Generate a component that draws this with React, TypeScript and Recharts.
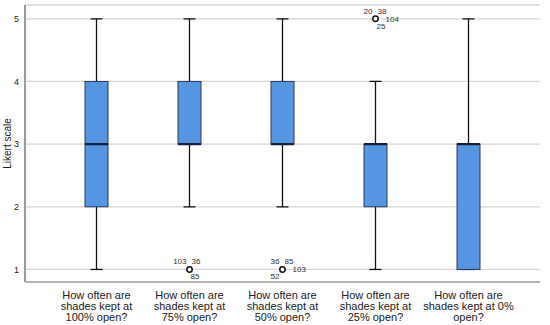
import React from 'react';
import {
  ComposedChart,
  Bar,
  Scatter,
  XAxis,
  YAxis,
  CartesianGrid,
} from 'recharts';

const categories = [
  'How often are shades kept at 100% open?',
  'How often are shades kept at 75% open?',
  'How often are shades kept at 50% open?',
  'How often are shades kept at 25% open?',
  'How often are shades kept at 0% open?',
];
const mins = [1, 2, 2, 1, 1];
const q1s = [2, 3, 3, 2, 1];
const medians = [3, 3, 3, 3, 3];
const q3s = [4, 4, 4, 3, 3];
const maxs = [5, 5, 5, 4, 5];
const outliers: (number | null)[] = [null, 1, 1, 5, null];
// case numbers beside each outlier: [text, position]
const outlierLabels: [string, string][][] = [
  [],
  [['103', 'tl'], ['36', 'tr'], ['85', 'br']],
  [['36', 'tl'], ['85', 'tr'], ['52', 'bl'], ['103', 'r']],
  [['20', 'tl'], ['38', 'tr'], ['25', 'br'], ['104', 'r']],
  [],
];
const yTicks = [1, 2, 3, 4, 5];

const data = categories.map((name, i) => ({
  name,
  min: mins[i],
  q1: q1s[i],
  median: medians[i],
  q3: q3s[i],
  max: maxs[i],
  outlier: outliers[i],
  labels: outlierLabels[i],
}));

const FONT = '"Liberation Sans", Arial, sans-serif';
const BOX_FILL = '#5596e3';
const BOX_STROKE = '#2c3a55';

// whole box + whiskers drawn from the ranged bar [min, max]
const BoxShape = (props: any) => {
  const { x, y, width, height, payload } = props;
  const { min, q1, median, q3, max } = payload;
  const unit = height / (max - min);
  const py = (v: number) => y + (max - v) * unit;
  const cx = x + width / 2;
  const cap = 6;
  return (
    <g>
      <line x1={cx} x2={cx} y1={py(max)} y2={py(q3)} stroke="#111" strokeWidth={1.3} />
      <line x1={cx} x2={cx} y1={py(q1)} y2={py(min)} stroke="#111" strokeWidth={1.3} />
      <line x1={cx - cap} x2={cx + cap} y1={py(max)} y2={py(max)} stroke="#111" strokeWidth={1.3} />
      <line x1={cx - cap} x2={cx + cap} y1={py(min)} y2={py(min)} stroke="#111" strokeWidth={1.3} />
      <rect
        x={x}
        y={py(q3)}
        width={width}
        height={py(q1) - py(q3)}
        fill={BOX_FILL}
        stroke={BOX_STROKE}
        strokeWidth={1}
      />
      <line x1={x} x2={x + width} y1={py(median)} y2={py(median)} stroke="#15203a" strokeWidth={2.2} />
    </g>
  );
};

const labelOffset: Record<string, [number, number, string]> = {
  tl: [-3, -5, 'end'],
  tr: [2, -5, 'start'],
  bl: [-3, 10, 'end'],
  br: [1, 10, 'start'],
  r: [10, 3, 'start'],
};

const OutlierShape = (props: any) => {
  const { cx, cy, payload } = props;
  if (payload.outlier == null || cx == null || cy == null) return null;
  return (
    <g>
      <circle cx={cx} cy={cy} r={2.7} fill="#fff" stroke="#111" strokeWidth={1.5} />
      {payload.labels.map(([t, pos]: [string, string]) => {
        const [dx, dy, anchor] = labelOffset[pos];
        return (
          <text
            key={t + pos}
            x={cx + dx}
            y={cy + dy}
            textAnchor={anchor as any}
            fontSize={8}
            fontFamily={FONT}
            fill="#333"
          >
            {t}
          </text>
        );
      })}
    </g>
  );
};

const wrap = (s: string, maxChars: number) => {
  const words = s.split(' ');
  const lines: string[] = [];
  let cur = '';
  words.forEach((w) => {
    const next = cur ? cur + ' ' + w : w;
    if (next.length > maxChars && cur) {
      lines.push(cur);
      cur = w;
    } else {
      cur = next;
    }
  });
  if (cur) lines.push(cur);
  return lines;
};

const XTick = (props: any) => {
  const { x, y, payload } = props;
  const lines = wrap(payload.value, 17);
  return (
    <text x={x} y={y + 15} textAnchor="middle" fontSize={11} fontFamily={FONT} fill="#222">
      {lines.map((l, i) => (
        <tspan key={i} x={x} dy={i === 0 ? 0 : 10.8}>
          {l}
        </tspan>
      ))}
    </text>
  );
};

export default function App() {
  return (
    <div style={{ position: 'absolute', left: 0, top: 0, width: 550, height: 325, background: '#fff' }}>
      <ComposedChart
        width={550}
        height={325}
        data={data}
        margin={{ top: 5, right: 10, bottom: 0, left: 0 }}
      >
        <CartesianGrid horizontal vertical={false} stroke="#d6d6d6" strokeWidth={1.3} />
        <XAxis
          dataKey="name"
          height={43}
          padding={{ left: 25, right: 25 }}
          tickLine={false}
          tickSize={0}
          tick={<XTick />}
          interval={0}
          axisLine={{ stroke: '#8a8a8a', strokeWidth: 1.2 }}
        />
        <YAxis
          width={25}
          domain={[0.8, 5.22]}
          ticks={yTicks}
          allowDataOverflow
          tickLine={false}
          tickSize={4}
          tick={{ fontSize: 9, fill: '#222', fontFamily: FONT }}
          axisLine={{ stroke: '#9a9a9a', strokeWidth: 2 }}
          label={{
            value: 'Likert scale',
            angle: -90,
            position: 'insideLeft',
            offset: 7,
            style: { fontSize: 10, fill: '#222', fontFamily: FONT, textAnchor: 'middle' },
          }}
        />
        <Bar
          dataKey={(d: any) => [d.min, d.max]}
          barSize={23}
          shape={<BoxShape />}
          isAnimationActive={false}
        />
        <Scatter dataKey="outlier" shape={<OutlierShape />} isAnimationActive={false} />
      </ComposedChart>
    </div>
  );
}
